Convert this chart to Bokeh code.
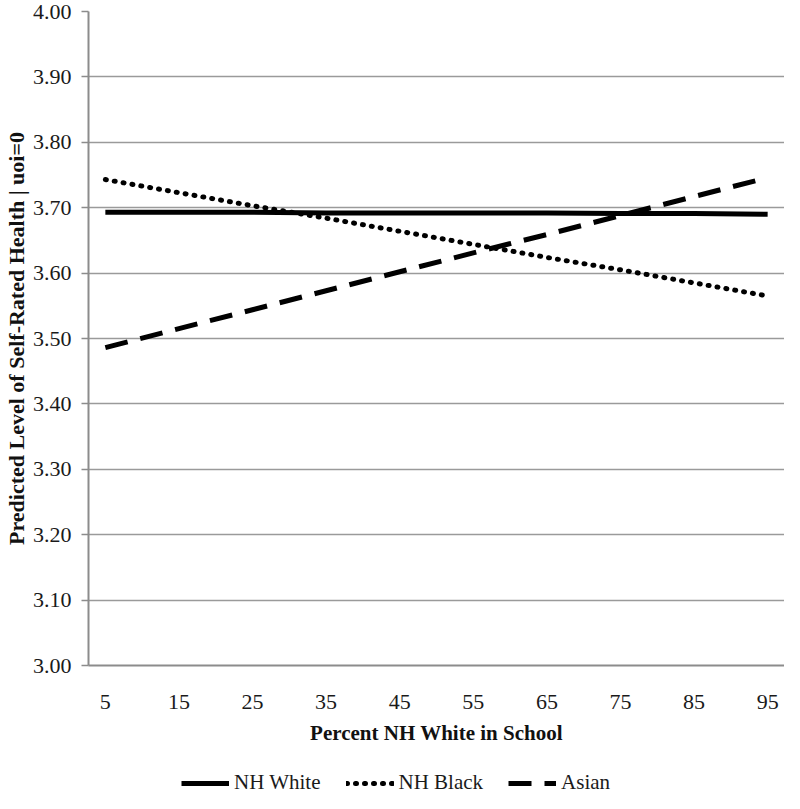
from bokeh.plotting import figure
from bokeh.models import Range1d, FixedTicker, NumeralTickFormatter, Legend, LegendItem
from bokeh.layouts import column
from bokeh.embed import file_html
from bokeh.resources import INLINE

# Data
pct_white = [5, 15, 25, 35, 45, 55, 65, 75, 85, 95]
nh_white = [3.693, 3.693, 3.693, 3.692, 3.692, 3.692, 3.692, 3.691, 3.691, 3.690]
nh_black = [3.743, 3.723, 3.703, 3.684, 3.664, 3.644, 3.624, 3.605, 3.585, 3.565]
asian = [3.486, 3.515, 3.544, 3.573, 3.602, 3.631, 3.659, 3.688, 3.717, 3.746]
y_ticks = [3.0, 3.1, 3.2, 3.3, 3.4, 3.5, 3.6, 3.7, 3.8, 3.9, 4.0]
series_names = ["NH White", "NH Black", "Asian"]

FONT = "Liberation Serif"
STYLES = [dict(line_color="black", line_width=5),
          dict(line_color="black", line_width=5, line_dash="1 8", line_cap="round"),
          dict(line_color="black", line_width=5, line_dash="23 13")]

p = figure(width=784, height=757,
           x_range=Range1d(2.71, 97.29), y_range=Range1d(3.0, 4.0),
           output_backend="svg", toolbar_location=None,
           min_border_left=81, min_border_right=0, min_border_top=11,
           min_border_bottom=92)
p.outline_line_color = None
p.background_fill_color = "white"
p.border_fill_color = "white"

for ys, st in zip([nh_white, nh_black, asian], STYLES):
    p.line(pct_white, ys, **st)

# Axes
p.xaxis.ticker = FixedTicker(ticks=pct_white)
p.yaxis.ticker = FixedTicker(ticks=y_ticks)
p.yaxis.formatter = NumeralTickFormatter(format="0.00")

p.xgrid.grid_line_color = None
p.ygrid.grid_line_color = "#9a9a9a"
p.ygrid.grid_line_width = 1.6

p.axis.axis_line_color = "#8c8c8c"
p.axis.axis_line_width = 2
p.axis.major_label_text_font = FONT
p.axis.major_label_text_font_size = "22px"
p.axis.major_label_text_color = "#1a1a1a"
p.axis.axis_label_text_font = FONT
p.axis.axis_label_text_font_style = "bold"
p.axis.axis_label_text_color = "#111111"
p.axis.minor_tick_line_color = None

p.xaxis.major_tick_line_color = None
p.xaxis.major_tick_out = 0
p.xaxis.major_tick_in = 0
p.xaxis.major_label_standoff = 29
p.xaxis.axis_label = "Percent NH White in School"
p.xaxis.axis_label_text_font_size = "21px"
p.xaxis.axis_label_standoff = 9

p.yaxis.major_tick_line_color = "#8c8c8c"
p.yaxis.major_tick_line_width = 1.6
p.yaxis.major_tick_out = 7
p.yaxis.major_tick_in = 0
p.yaxis.major_label_standoff = 10
p.yaxis.axis_label = "Predicted Level of Self-Rated Health | uoi=0"
p.yaxis.axis_label_text_font_size = "22px"
p.yaxis.axis_label_standoff = 1

# Legend strip below the chart (its sample lines sit outside its visible range)
lf = figure(width=784, height=36, x_range=Range1d(0, 1), y_range=Range1d(0, 1),
            output_backend="svg", toolbar_location=None,
            x_axis_type=None, y_axis_type=None,
            min_border_left=0, min_border_right=0, min_border_top=0, min_border_bottom=0)
lf.outline_line_color = None
lf.grid.visible = False
items = []
for name, st in zip(series_names, STYLES):
    r = lf.line([-5, -4], [-5, -5], **st)
    items.append(LegendItem(label=name, renderers=[r]))

legend = Legend(items=items, orientation="horizontal", location=(93, -2))
legend.label_text_font = FONT
legend.label_text_font_size = "21px"
legend.label_text_color = "#1a1a1a"
legend.glyph_width = 48
legend.glyph_height = 20
legend.label_standoff = 5
legend.spacing = 25
legend.border_line_color = None
legend.background_fill_alpha = 0
legend.margin = 0
legend.padding = 0
lf.add_layout(legend, "center")

layout = column(p, lf, spacing=0)
open("out.html", "w").write(file_html(layout, INLINE))
